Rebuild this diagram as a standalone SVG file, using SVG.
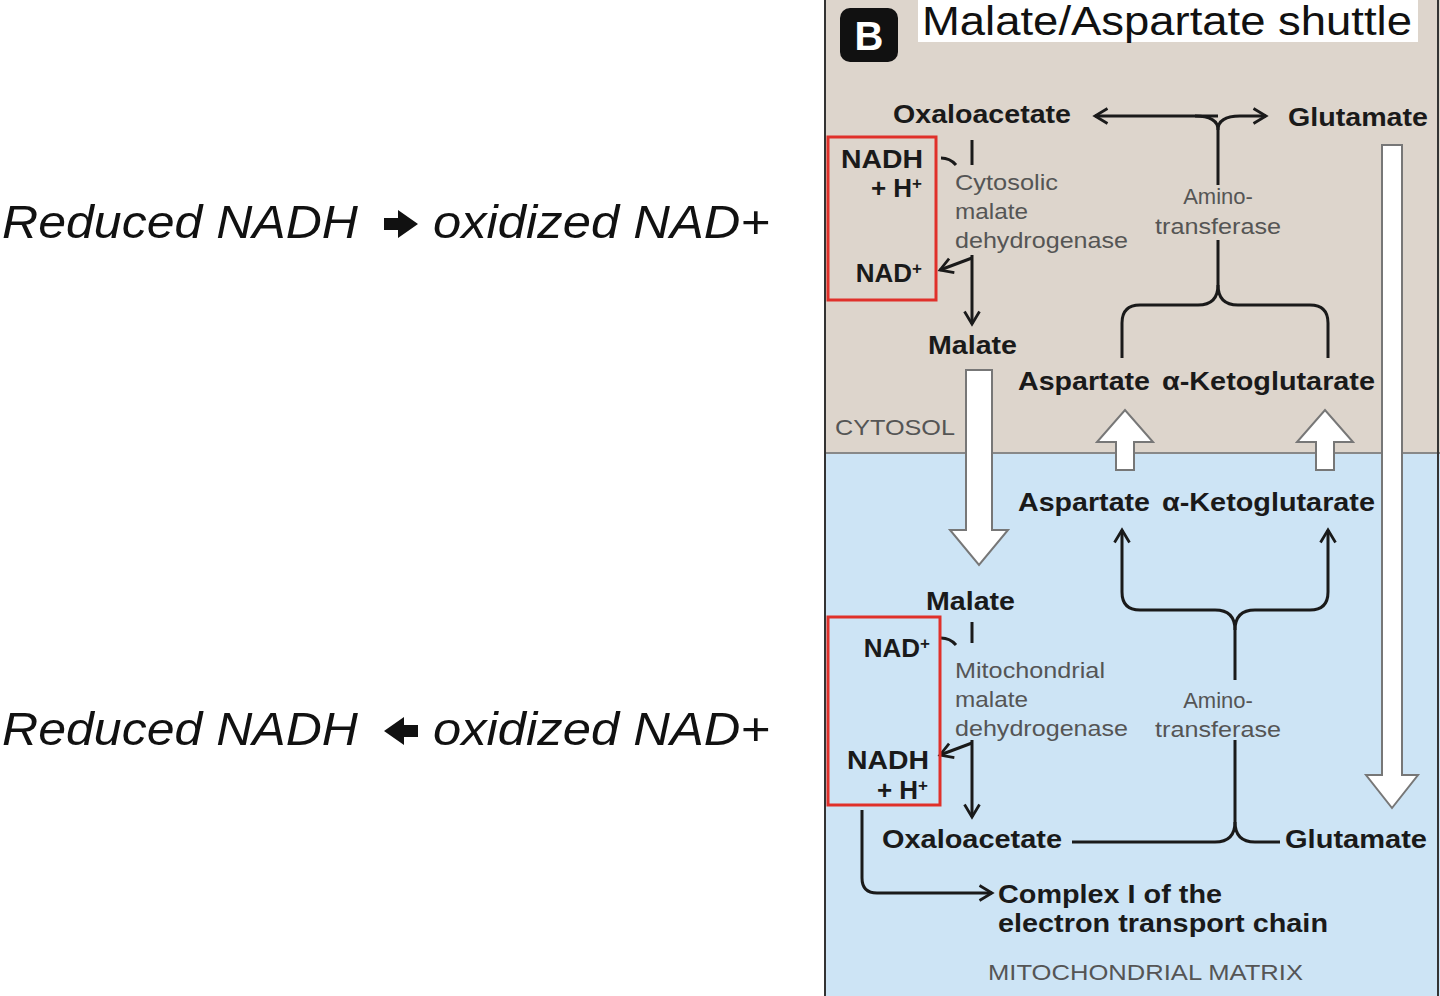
<svg xmlns="http://www.w3.org/2000/svg" width="1440" height="996" viewBox="0 0 1440 996">
<defs>
<style>
.lbl{font-family:"Liberation Sans",Arial,sans-serif;font-weight:bold;font-size:26px;fill:#1a1a1a}
.enz{font-family:"Liberation Sans",Arial,sans-serif;font-size:22px;fill:#555}
.reg{font-family:"Liberation Sans",Arial,sans-serif;font-size:22px;fill:#555}
.side{font-family:"Liberation Sans",Arial,sans-serif;font-style:italic;font-size:47px;fill:#111}
.ln{fill:none;stroke:#1a1a1a;stroke-width:3}
.hollow{fill:#fff;stroke:#777;stroke-width:2}
.red{fill:none;stroke:#e0302a;stroke-width:3}
</style>
<marker id="ah" viewBox="0 0 12 12" refX="10" refY="6" markerWidth="15" markerHeight="15" markerUnits="userSpaceOnUse" orient="auto" overflow="visible">
<path d="M0,0 L10,6 L0,12" fill="none" stroke="#1a1a1a" stroke-width="2.2"/>
</marker>
</defs>
<rect width="1440" height="996" fill="#fff"/>
<g id="panel">
<rect x="825" y="0" width="615" height="453" fill="#ddd5cc"/>
<rect x="825" y="453" width="615" height="543" fill="#cde4f5"/>
<line x1="825" y1="453" x2="1440" y2="453" stroke="#888" stroke-width="2"/>
<line x1="825" y1="0" x2="825" y2="996" stroke="#333" stroke-width="2"/>
<line x1="1438" y1="0" x2="1438" y2="996" stroke="#333" stroke-width="2"/>
</g>
<g id="title">
<rect x="840" y="8" width="58" height="54" rx="10" fill="#111"/>
<text x="869" y="50" text-anchor="middle" font-family="Liberation Sans,Arial,sans-serif" font-weight="bold" font-size="40" fill="#fff">B</text>
<rect x="918" y="0" width="500" height="42" fill="#fff"/>
<text x="922" y="35" font-family="Liberation Sans,Arial,sans-serif" font-size="40" fill="#111" textLength="490" lengthAdjust="spacingAndGlyphs">Malate/Aspartate shuttle</text>
</g>
<g id="transport">
<path class="hollow" d="M966,370 H992 V530 H1008 L979,565 L950,530 H966 Z"/>
<path class="hollow" d="M1116,470 V442 H1097 L1125,410 L1153,442 H1134 V470 Z"/>
<path class="hollow" d="M1316,470 V442 H1297 L1325,410 L1353,442 H1334 V470 Z"/>
<path class="hollow" d="M1382,145 H1402 V775 H1418 L1392,808 L1366,775 H1382 Z"/>
</g>
<g id="connectors">
<line class="ln" x1="972" y1="140" x2="972" y2="165"/>
<path class="ln" d="M941,158 Q950,158 956,165"/>
<line class="ln" x1="972" y1="258" x2="940" y2="270" marker-end="url(#ah)"/>
<line class="ln" x1="972" y1="255" x2="972" y2="324" marker-end="url(#ah)"/>
<line class="ln" x1="1218" y1="116" x2="1095" y2="116" marker-end="url(#ah)"/>
<path class="ln" d="M1195,116 Q1218,116 1218,130 V185"/>
<path class="ln" d="M1218,130 Q1218,116 1240,116 H1266" marker-end="url(#ah)"/>
<path class="ln" d="M1218,240 V285 Q1218,305 1198,305 H1140 Q1122,305 1122,323 V358"/>
<path class="ln" d="M1218,285 Q1218,305 1238,305 H1310 Q1328,305 1328,323 V358"/>
<line class="ln" x1="972" y1="622" x2="972" y2="643"/>
<path class="ln" d="M941,638 Q950,638 956,645"/>
<line class="ln" x1="972" y1="743" x2="940" y2="755" marker-end="url(#ah)"/>
<line class="ln" x1="972" y1="740" x2="972" y2="817" marker-end="url(#ah)"/>
<path class="ln" d="M1072,842 H1215 Q1235,842 1235,822 V740"/>
<path class="ln" d="M1280,842 H1255 Q1235,842 1235,822"/>
<path class="ln" d="M1235,680 V630 Q1235,610 1215,610 H1140 Q1122,610 1122,592 V530" marker-end="url(#ah)"/>
<path class="ln" d="M1235,630 Q1235,610 1255,610 H1310 Q1328,610 1328,592 V530" marker-end="url(#ah)"/>
<path class="ln" d="M862,810 V878 Q862,893 877,893 H992" marker-end="url(#ah)"/>
</g>
<g id="cytosol-nodes">
<text class="lbl" x="893" y="123" textLength="178" lengthAdjust="spacingAndGlyphs">Oxaloacetate</text>
<text class="lbl" x="1288" y="126" textLength="140" lengthAdjust="spacingAndGlyphs">Glutamate</text>
<text class="lbl" x="928" y="354" textLength="89" lengthAdjust="spacingAndGlyphs">Malate</text>
<text class="lbl" x="1018" y="390" textLength="132" lengthAdjust="spacingAndGlyphs">Aspartate</text>
<text class="lbl" x="1162" y="390" textLength="213" lengthAdjust="spacingAndGlyphs">α-Ketoglutarate</text>
<text class="enz" x="955" y="190" textLength="103" lengthAdjust="spacingAndGlyphs">Cytosolic</text>
<text class="enz" x="955" y="219" textLength="73" lengthAdjust="spacingAndGlyphs">malate</text>
<text class="enz" x="955" y="248" textLength="173" lengthAdjust="spacingAndGlyphs">dehydrogenase</text>
<text class="enz" x="1218" y="204" text-anchor="middle">Amino-</text>
<text class="enz" x="1155" y="234" textLength="126" lengthAdjust="spacingAndGlyphs">transferase</text>
<text class="reg" x="835" y="435" textLength="120" lengthAdjust="spacingAndGlyphs">CYTOSOL</text>
</g>
<g id="cytosol-nad">
<rect class="red" x="828" y="137" width="108" height="163"/>
<text class="lbl" x="841" y="168" textLength="82" lengthAdjust="spacingAndGlyphs">NADH</text>
<text class="lbl" x="922" y="197" text-anchor="end">+ H<tspan font-size="17" dy="-8">+</tspan></text>
<text class="lbl" x="922" y="282" text-anchor="end">NAD<tspan font-size="17" dy="-8">+</tspan></text>
</g>
<g id="matrix-nodes">
<text class="lbl" x="1018" y="511" textLength="132" lengthAdjust="spacingAndGlyphs">Aspartate</text>
<text class="lbl" x="1162" y="511" textLength="213" lengthAdjust="spacingAndGlyphs">α-Ketoglutarate</text>
<text class="lbl" x="926" y="610" textLength="89" lengthAdjust="spacingAndGlyphs">Malate</text>
<text class="lbl" x="882" y="848" textLength="180" lengthAdjust="spacingAndGlyphs">Oxaloacetate</text>
<text class="lbl" x="1285" y="848" textLength="142" lengthAdjust="spacingAndGlyphs">Glutamate</text>
<text class="enz" x="955" y="678" textLength="150" lengthAdjust="spacingAndGlyphs">Mitochondrial</text>
<text class="enz" x="955" y="707" textLength="73" lengthAdjust="spacingAndGlyphs">malate</text>
<text class="enz" x="955" y="736" textLength="173" lengthAdjust="spacingAndGlyphs">dehydrogenase</text>
<text class="enz" x="1218" y="708" text-anchor="middle">Amino-</text>
<text class="enz" x="1155" y="737" textLength="126" lengthAdjust="spacingAndGlyphs">transferase</text>
<text class="lbl" x="998" y="903" textLength="224" lengthAdjust="spacingAndGlyphs">Complex I of the</text>
<text class="lbl" x="998" y="932" textLength="330" lengthAdjust="spacingAndGlyphs">electron transport chain</text>
<text class="reg" x="988" y="980" textLength="315" lengthAdjust="spacingAndGlyphs">MITOCHONDRIAL MATRIX</text>
</g>
<g id="matrix-nad">
<rect class="red" x="828" y="617" width="112" height="188"/>
<text class="lbl" x="930" y="657" text-anchor="end">NAD<tspan font-size="17" dy="-8">+</tspan></text>
<text class="lbl" x="847" y="769" textLength="82" lengthAdjust="spacingAndGlyphs">NADH</text>
<text class="lbl" x="928" y="799" text-anchor="end">+ H<tspan font-size="17" dy="-8">+</tspan></text>
</g>
<g id="side-notes">
<text class="side" x="2" y="238" textLength="356" lengthAdjust="spacingAndGlyphs">Reduced NADH</text>
<path d="M384,218 H398 V210 L418,224 L398,238 V230 H384 Z" fill="#111"/>
<text class="side" x="433" y="238" textLength="337" lengthAdjust="spacingAndGlyphs">oxidized NAD+</text>
<text class="side" x="2" y="745" textLength="356" lengthAdjust="spacingAndGlyphs">Reduced NADH</text>
<path d="M418,725 H404 V717 L384,731 L404,745 V737 H418 Z" fill="#111"/>
<text class="side" x="433" y="745" textLength="337" lengthAdjust="spacingAndGlyphs">oxidized NAD+</text>
</g>
</svg>
